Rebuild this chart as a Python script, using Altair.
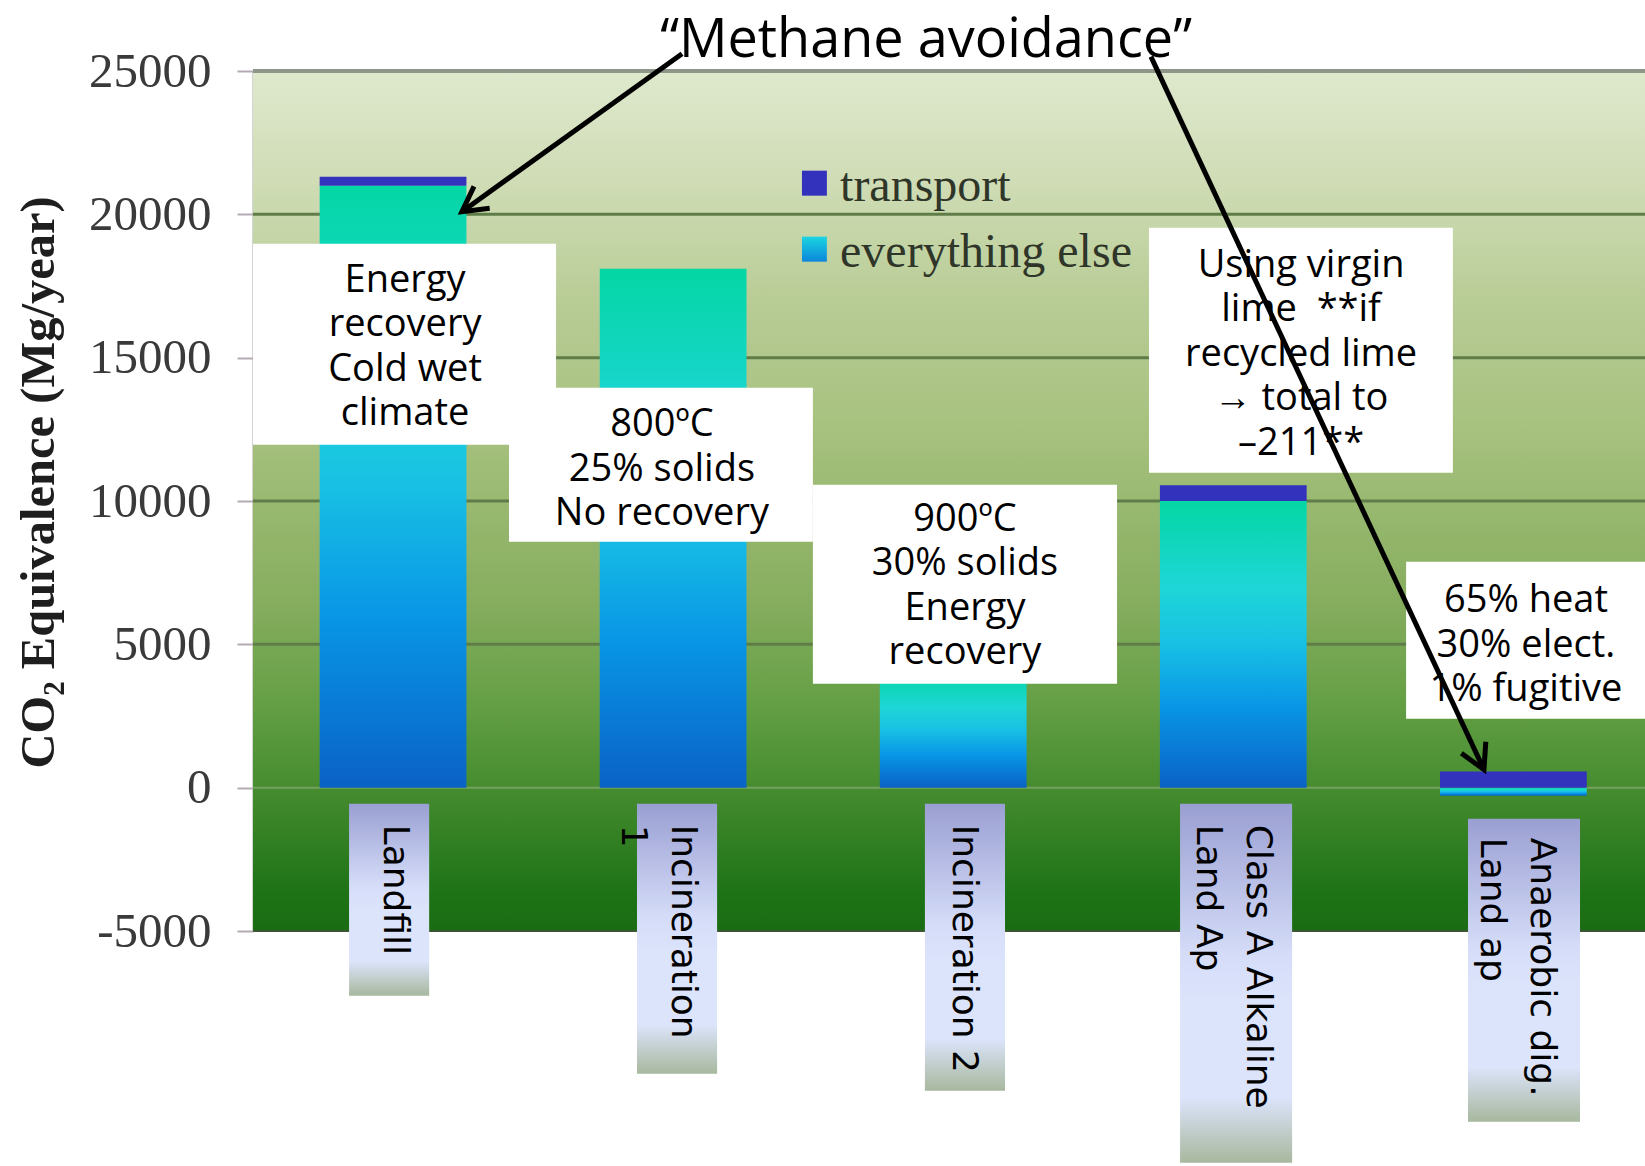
import math
import altair as alt
import pandas as pd

# ---------------------------------------------------------------------------
# Data: CO2-equivalent emissions (Mg/year) for each biosolids option
# ---------------------------------------------------------------------------
categories = [
    "Landfill",
    "Incineration 1",
    "Incineration 2",
    "Class A Alkaline Land Ap",
    "Anaerobic dig. Land ap",
]
axis_labels = [
    "Landfill",
    "Incineration\n1",
    "Incineration 2",
    "Class A Alkaline\nLand Ap",
    "Anaerobic dig.\nLand ap",
]
everything_else = [21000, 18100, 4000, 10000, -280]
transport = [310, 0, 0, 550, 560]

y_ticks = [-5000, 0, 5000, 10000, 15000, 20000, 25000]
legend_names = ["transport", "everything else"]

notes = [
    "Energy\nrecovery\nCold wet\nclimate",
    "800ºC\n25% solids\nNo recovery",
    "900ºC\n30% solids\nEnergy\nrecovery",
    "Using virgin\nlime\u00a0\u00a0**if\nrecycled lime\n→ total to\n–211**",
    "65% heat\n30% elect.\n1% fugitive",
]
headline = "“Methane avoidance”"
y_title = "CO₂ Equivalence (Mg/year)"

# ---------------------------------------------------------------------------
# Layout
# ---------------------------------------------------------------------------
W, H = 1392, 860
X_DOM = [-0.5, 4.47]
Y_DOM = [-5000, 25000]
BAR_HALF = 0.262

SERIF = "Liberation Serif"
SANS = "Open Sans"

# one shared left axis (every layer carries the identical definition so they merge)
Y_AXIS = alt.Axis(
    values=y_ticks,
    labelExpr="datum.value + ''",
    labelFont=SERIF, labelFontSize=49, labelColor="#3a3a3a", labelPadding=26,
    ticks=True, tickSize=16, tickWidth=2, tickColor="#b3aab3",
    domain=True, domainColor="#a9a9a9", domainWidth=2,
    grid=False,
    title=y_title, titleFont=SERIF, titleFontSize=48.5, titleFontWeight="bold",
    titleColor="#1e1e1e", titleAngle=270, titleAlign="center", titleBaseline="middle",
    titleX=-215, titleY=411,
)


def xq(field):
    return alt.X(field, scale=alt.Scale(domain=X_DOM, nice=False, zero=False), axis=None)


def yq(field):
    return alt.Y(field, scale=alt.Scale(domain=Y_DOM, nice=False, zero=False), axis=Y_AXIS)


def vgrad(stops):
    return alt.LinearGradient(
        gradient="linear", x1=0, x2=0, y1=0, y2=1,
        stops=[alt.GradientStop(offset=o, color=c) for o, c in stops],
    )


BG_STOPS = [
    (0.00, "#dee9cd"), (0.13, "#cfdcb5"), (0.27, "#b8cc95"), (0.42, "#a6c17e"),
    (0.62, "#86ad5e"), (0.73, "#66a046"), (0.83, "#478d30"), (0.95, "#1f7417"),
    (1.00, "#1a6c12"),
]
BAR_STOPS = [
    (0.00, "#04d6a4"), (0.30, "#1ed6d8"), (0.50, "#18c0e4"), (0.72, "#0895e6"),
    (1.00, "#0a62c6"),
]
LEGEND_STOPS = [(0.0, "#1ad4e0"), (1.0, "#0c86dc")]
LABEL_STOPS = [
    (0.00, "#9a9fd2"), (0.42, "#d4dcf8"), (0.55, "#dce4fc"), (0.82, "#dce4fb"),
    (1.00, "#a7b89e"),
]
TRANSPORT_COLOR = "#3232bd"

# ---------------------------------------------------------------------------
# Tables built from the arrays above
# ---------------------------------------------------------------------------
bars = pd.DataFrame({
    "cat": categories,
    "pos": list(range(len(categories))),
    "ee": everything_else,
    "tr": transport,
})
bars["lo"] = bars["pos"] - BAR_HALF
bars["hi"] = bars["pos"] + BAR_HALF
bars["zero"] = 0
bars["tr_base"] = bars["ee"].clip(lower=0)
bars["tr_top"] = bars["tr_base"] + bars["tr"]

frame = pd.DataFrame({"x0": [X_DOM[0]], "x1": [X_DOM[1]], "y0": [Y_DOM[0]], "y1": [Y_DOM[1]]})

inner = [v for v in y_ticks if v not in (Y_DOM[0], Y_DOM[1], 0)]
grid_inner = pd.DataFrame({"v": inner, "x0": X_DOM[0], "x1": X_DOM[1]})
grid_zero = pd.DataFrame({"v": [0], "x0": X_DOM[0], "x1": X_DOM[1]})
grid_top = pd.DataFrame({"v": [Y_DOM[1]], "x0": X_DOM[0], "x1": X_DOM[1]})
grid_bottom = pd.DataFrame({"v": [Y_DOM[0]], "x0": X_DOM[0], "x1": X_DOM[1]})

legend = pd.DataFrame({
    "name": legend_names,
    "x0": 1.460, "x1": 1.549,
    "y0": [20651, 18349], "y1": [21523, 19222],
    "tx": 1.596, "ty": [20476, 18175],
})

# white note boxes; (tx, ty) is the centre of each note's first line
note_boxes = pd.DataFrame({
    "text": notes,
    "x0": [-0.5, 0.414, 1.499, 2.699, 3.617],
    "x1": [0.582, 1.499, 2.585, 3.784, X_DOM[1]],
    "y0": [11965, 8581, 3628, 10988, 2407],
    "y1": [18977, 13954, 10570, 19535, 7884],
    "tx": [0.043, 0.960, 2.042, 3.242, 4.045],
    "ty": [17690, 12650, 9340, 18200, 6500],
})

# category label tags under the zero line; (tx, ty) is the start of the first line
label_cx = [-0.014, 1.014, 2.042, 3.010, 4.038]
label_half = [0.143, 0.143, 0.143, 0.200, 0.200]
labels = pd.DataFrame({
    "text": axis_labels,
    "x0": [c - h for c, h in zip(label_cx, label_half)],
    "x1": [c + h for c, h in zip(label_cx, label_half)],
    "y0": [-7255, -9976, -10569, -13080, -11650],
    "y1": [-558, -558, -558, -558, -1081],
    "tx": [0.007, 1.035, 2.039, 3.088, 4.102],
    "ty": [-1290, -1290, -1290, -1290, -1744],
})

arrows = pd.DataFrame({
    "sx": [1.032, 2.706], "sy": [25604, 25500],
    "ex": [0.246, 3.895], "ey": [20093, 628],
})
kx = W / (X_DOM[1] - X_DOM[0])
ky = H / (Y_DOM[1] - Y_DOM[0])
arrows["ang"] = [
    (math.degrees(math.atan2(-(ey - sy) * ky, (ex - sx) * kx)) + 90) % 360
    for sx, sy, ex, ey in zip(arrows["sx"], arrows["sy"], arrows["ex"], arrows["ey"])
]

title_df = pd.DataFrame({"text": [headline], "x": [1.903], "y": [26060]})

# ---------------------------------------------------------------------------
# Layers
# ---------------------------------------------------------------------------
background = alt.Chart(frame).mark_rect(color=vgrad(BG_STOPS)).encode(
    x=xq("x0:Q"), x2="x1:Q", y=yq("y0:Q"), y2="y1:Q"
)


def rules(df, color, width):
    return alt.Chart(df).mark_rule(color=color, strokeWidth=width).encode(
        x=xq("x0:Q"), x2="x1:Q", y=yq("v:Q")
    )


grid = (
    rules(grid_inner, "#5f7d49", 3)
    + rules(grid_zero, "#77a060", 2)
    + rules(grid_bottom, "#3d5632", 2)
    + rules(grid_top, "#8e9589", 4)
)

bar_else = alt.Chart(bars).mark_rect(color=vgrad(BAR_STOPS)).encode(
    x=xq("lo:Q"), x2="hi:Q", y=yq("zero:Q"), y2="ee:Q"
)
bar_transport = alt.Chart(bars).mark_rect(color=TRANSPORT_COLOR).encode(
    x=xq("lo:Q"), x2="hi:Q", y=yq("tr_base:Q"), y2="tr_top:Q"
)

legend_sq1 = alt.Chart(legend.iloc[[0]]).mark_rect(color=TRANSPORT_COLOR).encode(
    x=xq("x0:Q"), x2="x1:Q", y=yq("y0:Q"), y2="y1:Q"
)
legend_sq2 = alt.Chart(legend.iloc[[1]]).mark_rect(color=vgrad(LEGEND_STOPS)).encode(
    x=xq("x0:Q"), x2="x1:Q", y=yq("y0:Q"), y2="y1:Q"
)
legend_text = alt.Chart(legend).mark_text(
    align="left", baseline="alphabetic", font=SERIF, fontSize=48, color="#2f3629"
).encode(x=xq("tx:Q"), y=yq("ty:Q"), text="name:N")

note_rect = alt.Chart(note_boxes).mark_rect(color="white").encode(
    x=xq("x0:Q"), x2="x1:Q", y=yq("y0:Q"), y2="y1:Q"
)
note_text = alt.Chart(note_boxes).mark_text(
    align="center", baseline="middle", lineBreak="\n", lineHeight=44.5,
    font=SANS, fontSize=38, color="black"
).encode(x=xq("tx:Q"), y=yq("ty:Q"), text="text:N")

label_rect = alt.Chart(labels).mark_rect(color=vgrad(LABEL_STOPS)).encode(
    x=xq("x0:Q"), x2="x1:Q", y=yq("y0:Q"), y2="y1:Q"
)
label_text = alt.Chart(labels).mark_text(
    angle=90, align="left", baseline="middle", lineBreak="\n", lineHeight=50,
    font="DejaVu Sans", fontSize=36, color="black"
).encode(x=xq("tx:Q"), y=yq("ty:Q"), text="text:N")

arrow_lines = alt.Chart(arrows).mark_rule(color="black", strokeWidth=5).encode(
    x=xq("sx:Q"), x2="ex:Q", y=yq("sy:Q"), y2="ey:Q"
)
arrow_heads = alt.Chart(arrows).mark_point(
    shape="M-0.55,1L0,0L0.55,1", filled=False, stroke="black", strokeWidth=5,
    size=2400, opacity=1, strokeJoin="miter", strokeCap="butt"
).encode(x=xq("ex:Q"), y=yq("ey:Q"), angle=alt.Angle("ang:Q", scale=None))

headline_text = alt.Chart(title_df).mark_text(
    align="center", baseline="middle", font=SANS, fontSize=54, color="black"
).encode(x=xq("x:Q"), y=yq("y:Q"), text="text:N")

chart = alt.layer(
    background, grid, bar_else, bar_transport,
    legend_sq1, legend_sq2, legend_text,
    note_rect, note_text,
    label_rect, label_text,
    headline_text, arrow_lines, arrow_heads,
).properties(
    width=W, height=H,
    padding={"left": 253, "top": 71, "right": 0, "bottom": 235},
    autosize=alt.AutoSizeParams(type="none"),
    background="white",
).configure_view(strokeWidth=0)

chart.save("out.html", embed_options={"renderer": "svg", "actions": False})
